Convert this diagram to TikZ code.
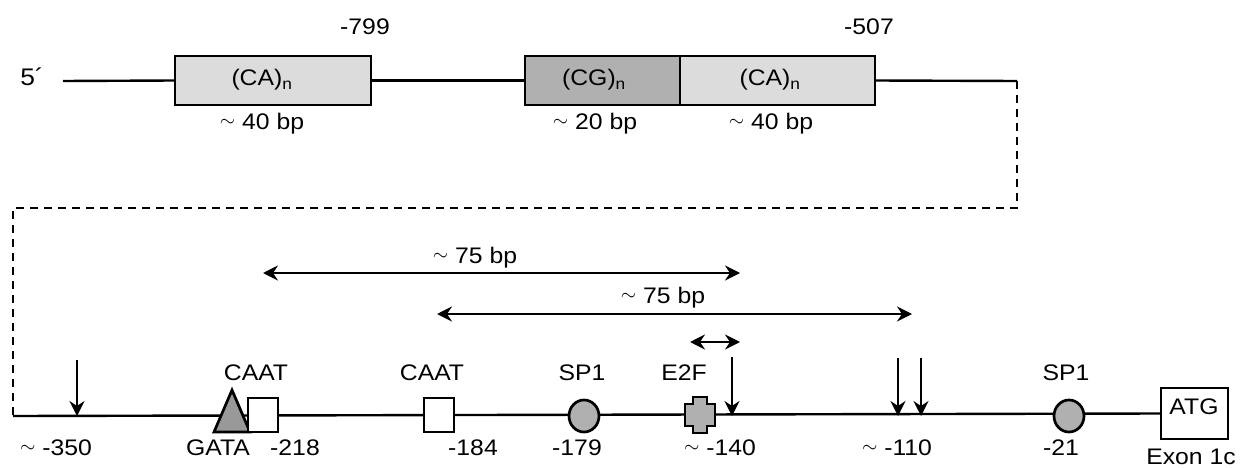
\documentclass[tikz,border=0pt]{standalone}
\usepackage{fontspec}
\usepackage{graphicx}
\setmainfont{Liberation Sans}[FakeStretch=1.1]
\usetikzlibrary{arrows.meta,shapes.geometric}
\definecolor{lgray}{HTML}{DCDCDC}
\definecolor{mgray}{HTML}{B0B0B0}
\definecolor{dgray}{HTML}{999999}
\newcommand\apx{\raisebox{3pt}{\scalebox{0.95}{$\sim$}}}
\begin{document}
\begin{tikzpicture}[x=1pt,y=-1pt,
  ln/.style={line width=2.4pt},
  dashln/.style={line width=2.4pt, dash pattern=on 8pt off 6pt},
  boxn/.style={draw, line width=2.7pt, inner sep=0pt, outer sep=0pt},
  lbl/.style={anchor=base, inner sep=0pt, font=\fontsize{22.5}{26}\selectfont},
  arr/.style={line width=2.3pt, -{Stealth[length=15pt,width=15pt,inset=5pt]}},
  darr/.style={line width=2.3pt, {Stealth[length=15pt,width=15pt,inset=5pt]}-{Stealth[length=15pt,width=15pt,inset=5pt]}},
]
\useasboundingbox (0,0) rectangle (1244,468);

% ---------- upper strand ----------
\coordinate (L5) at (63,81);
\coordinate (R1) at (1017,81);
\node[boxn, fill=lgray, minimum width=196pt, minimum height=49pt] (ca1) at (273,80.5) {};
\node[boxn, fill=mgray, minimum width=155pt, minimum height=49pt] (cg) at (602.5,80.5) {};
\node[boxn, fill=lgray, minimum width=195pt, minimum height=49pt] (ca2) at (777.5,80.5) {};
\draw[ln] (L5) -- (ca1.west);
\draw[ln] (ca1.east) -- (cg.west);
\draw[ln] (ca2.east) -- (R1);

\node[lbl, font=\fontsize{24}{28}\selectfont] (five) at (32,86) {5´};
\node[lbl] (p799) at (365,35) {-799};
\node[lbl] (p507) at (869,35) {-507};
\node[lbl] (tca1) at (262,86) {(CA)\textsubscript{n}};
\node[lbl] (tcg) at (594,86) {(CG)\textsubscript{n}};
\node[lbl] (tca2) at (770,86) {(CA)\textsubscript{n}};
\node[lbl] (bp1) at (262,129.5) {\apx{} 40 bp};
\node[lbl] (bp2) at (595,129.5) {\apx{} 20 bp};
\node[lbl] (bp3) at (771,129.5) {\apx{} 40 bp};

% ---------- dashed link ----------
\coordinate (D1) at (1017,208);
\coordinate (D2) at (13,208);
\coordinate (L0) at (13,416);
\draw[dashln] (R1) -- (D1) -- (D2) -- (L0);

% ---------- lower strand ----------
\node[boxn, minimum width=67pt, minimum height=51pt] (atg) at (1194.5,413.5) {};
\draw[ln] (L0) -- (atg.west);

% GATA triangle
\coordinate (gata) at (232,416);
\draw[line width=2.7pt, fill=dgray, line join=miter] (214,432) -- (232,390) -- (250,432) -- cycle;
% CAAT boxes
\node[boxn, fill=white, minimum width=30pt, minimum height=34pt] (caat1) at (263,415) {};
\node[boxn, fill=white, minimum width=30pt, minimum height=34pt] (caat2) at (439,415) {};
% SP1 circles
\node[boxn, ellipse, fill=mgray, minimum width=30pt, minimum height=32pt] (sp1a) at (584,416) {};
\node[boxn, ellipse, fill=mgray, minimum width=30pt, minimum height=32pt] (sp1b) at (1069,416) {};
% E2F cross
\draw[line width=2.7pt, fill=mgray] (693,397) -- (707,397) -- (707,404) -- (715,404) -- (715,426)
  -- (707,426) -- (707,433) -- (693,433) -- (693,426) -- (685,426) -- (685,404) -- (693,404) -- cycle;
\coordinate (e2f) at (700,415);

% down arrows
\coordinate (a1s) at (77,360);   \coordinate (a1e) at (77,416);
\coordinate (a2s) at (732,357);  \coordinate (a2e) at (732,416);
\coordinate (a3s) at (898,358);  \coordinate (a3e) at (898,416);
\coordinate (a4s) at (921,358);  \coordinate (a4e) at (921,416);
\draw[arr] (a1s) -- (a1e);
\draw[arr] (a2s) -- (a2e);
\draw[arr] (a3s) -- (a3e);
\draw[arr] (a4s) -- (a4e);

% double arrows
\coordinate (b1l) at (263,273);  \coordinate (b1r) at (740,273);
\coordinate (b2l) at (437,314);  \coordinate (b2r) at (912,314);
\coordinate (b3l) at (690,342);  \coordinate (b3r) at (740,342);
\draw[darr] (b1l) -- (b1r);
\draw[darr] (b2l) -- (b2r);
\draw[darr] (b3l) -- (b3r);
\node[lbl] (bp75a) at (475,263) {\apx{} 75 bp};
\node[lbl] (bp75b) at (663,303) {\apx{} 75 bp};

% labels above strand
\node[lbl] (lcaat1) at (256,380) {CAAT};
\node[lbl] (lcaat2) at (432,380) {CAAT};
\node[lbl] (lsp1a) at (582,380) {SP1};
\node[lbl] (le2f) at (684,380) {E2F};
\node[lbl] (lsp1b) at (1066,380) {SP1};
\node[lbl] (latg) at (1194,414) {ATG};

% labels below strand
\node[lbl] (n350) at (56,455) {\apx{} -350};
\node[lbl] (lgata) at (218,455) {GATA};
\node[lbl] (n218) at (295,455) {-218};
\node[lbl] (n184) at (473,455) {-184};
\node[lbl] (n179) at (577,455) {-179};
\node[lbl] (n140) at (720,455) {\apx{} -140};
\node[lbl] (n110) at (897,455) {\apx{} -110};
\node[lbl] (n21) at (1061,455) {-21};
\node[lbl] (lexon) at (1191,464) {Exon 1c};
\end{tikzpicture}
\end{document}
